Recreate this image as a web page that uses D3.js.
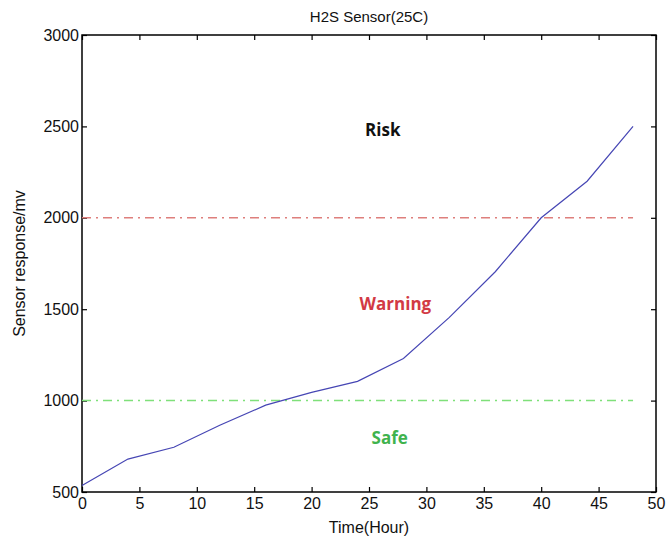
<!DOCTYPE html>
<html>
<head>
<meta charset="utf-8">
<script src="https://cdn.jsdelivr.net/npm/d3@7"></script>
<style>
  body { margin: 0; background: #fff; }
  svg text { font-family: "Liberation Sans", Arial, sans-serif; }
</style>
</head>
<body>
<svg id="chart"></svg>
<script>
// readings every 4 hours
const hours = [0, 4, 8, 12, 16, 20, 24, 28, 32, 36, 40, 44, 48];
const response = [535, 680, 745, 865, 975, 1045, 1105, 1230, 1455, 1705, 2000, 2200, 2500];
const xTicks = [0, 5, 10, 15, 20, 25, 30, 35, 40, 45, 50];
const yTicks = [500, 1000, 1500, 2000, 2500, 3000];
const thresholds = [
  { value: 2000, color: '#de7f7c' },
  { value: 1000, color: '#7fe07a' }
];
const zones = [
  { name: 'Risk', value: 2445, hour: 26.2, color: '#111111' },
  { name: 'Warning', value: 1495, hour: 27.3, color: '#d23a44' },
  { name: 'Safe', value: 760, hour: 26.8, color: '#3fb34e' }
];

const W = 667, H = 541,
  m = { l: 82, r: 11, t: 35, b: 49 };

const svg = d3.select('#chart').attr('width', W).attr('height', H);

const x = d3.scaleLinear().domain([0, 50]).range([m.l, W - m.r]);
const y = d3.scaleLinear().domain([500, 3000]).range([H - m.b, m.t]);

// frame
svg.append('rect')
  .attr('x', m.l).attr('y', m.t)
  .attr('width', W - m.r - m.l).attr('height', H - m.b - m.t)
  .attr('fill', 'none').attr('stroke', '#000').attr('stroke-width', 1.5);

const styleAxis = (g) => {
  g.select('.domain').remove();
  g.selectAll('line').attr('stroke', '#000').attr('stroke-width', 1.2);
  g.selectAll('text').attr('font-size', 16).attr('fill', '#111');
};

svg.append('g')
  .attr('transform', 'translate(0,' + (H - m.b) + ')')
  .call(d3.axisBottom(x).tickValues(xTicks).tickSize(-5).tickPadding(6))
  .call(styleAxis);
svg.append('g')
  .attr('transform', 'translate(0,' + m.t + ')')
  .call(d3.axisTop(x).tickValues(xTicks).tickSize(-5).tickFormat(''))
  .call(styleAxis);
svg.append('g')
  .attr('transform', 'translate(' + m.l + ',0)')
  .call(d3.axisLeft(y).tickValues(yTicks).tickSize(-5).tickPadding(3).tickFormat(d3.format('d')))
  .call(styleAxis);
svg.append('g')
  .attr('transform', 'translate(' + (W - m.r) + ',0)')
  .call(d3.axisRight(y).tickValues(yTicks).tickSize(-5).tickFormat(''))
  .call(styleAxis);

// threshold lines
svg.append('g').selectAll('line')
  .data(thresholds)
  .enter()
  .append('line')
  .attr('x1', x(0)).attr('x2', x(48))
  .attr('y1', (d) => y(d.value)).attr('y2', (d) => y(d.value))
  .attr('stroke', (d) => d.color)
  .attr('stroke-width', 1.5)
  .attr('stroke-dasharray', '9,5,2,5');

// sensor curve
svg.append('path')
  .datum(hours.map((h, i) => [h, response[i]]))
  .attr('fill', 'none')
  .attr('stroke', '#4646b4')
  .attr('stroke-width', 1.2)
  .attr('d', d3.line().x((d) => x(d[0])).y((d) => y(d[1])));

// zone labels
svg.append('g').selectAll('text')
  .data(zones)
  .enter()
  .append('text')
  .text((d) => d.name)
  .attr('x', (d) => x(d.hour))
  .attr('y', (d) => y(d.value))
  .attr('text-anchor', 'middle')
  .attr('font-size', 17)
  .attr('font-weight', 'bold')
  .style('font-family', '"Open Sans", sans-serif')
  .attr('fill', (d) => d.color);

svg.append('text')
  .text('H2S Sensor(25C)')
  .attr('x', 369).attr('y', 22)
  .attr('text-anchor', 'middle')
  .attr('font-size', 15).attr('fill', '#111');

svg.append('text')
  .text('Time(Hour)')
  .attr('x', 369).attr('y', H - 8)
  .attr('text-anchor', 'middle')
  .attr('font-size', 16).attr('fill', '#111');

svg.append('text')
  .text('Sensor response/mv')
  .attr('text-anchor', 'middle')
  .attr('font-size', 16).attr('fill', '#111')
  .attr('transform', 'translate(25,' + ((m.t + H - m.b) / 2) + ') rotate(-90)');
</script>
</body>
</html>
